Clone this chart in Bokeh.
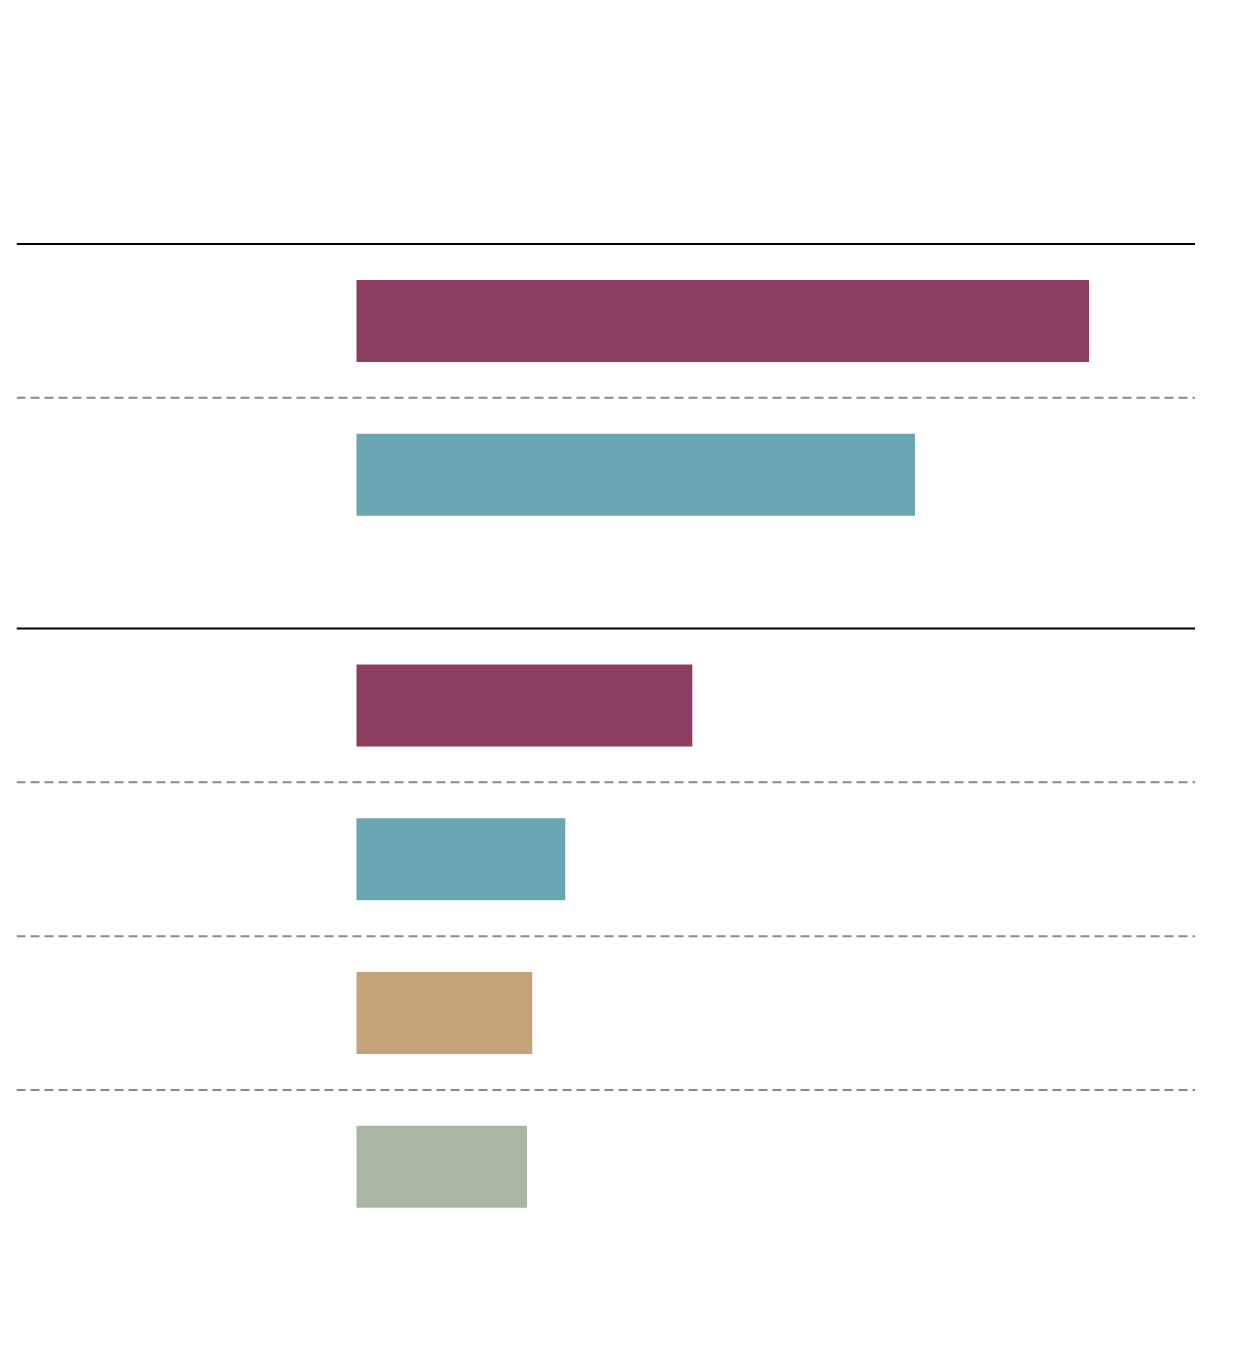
from bokeh.plotting import figure
from bokeh.models import Range1d, Span, ColumnDataSource
from bokeh.embed import file_html
from bokeh.resources import INLINE

# Data (no text labels are shown in the reference)
values = [42.1, 32.1, 19.3, 12.0, 10.1, 9.8]
groups = [0, 0, 1, 1, 1, 1]
colors = ["#8B3E60", "#6BA7B0", "#8B3E60", "#6BA7B0", "#C5A378", "#AAB6A3"]

GROUP_GAP = 0.5
positions = []
for i, g in enumerate(groups):
    positions.append(i + g * GROUP_GAP)

src = ColumnDataSource(dict(y=positions, right=values, color=colors))

p = figure(
    frame_width=1179, frame_height=1340,
    x_range=Range1d(-19.54, 48.22),
    y_range=Range1d(6.681, -2.031),
    output_backend="svg", toolbar_location=None,
    min_border_left=16, min_border_right=0, min_border_top=8, min_border_bottom=0,
)
p.axis.visible = False
p.grid.visible = False
p.outline_line_color = None
p.background_fill_color = "white"
p.border_fill_color = "white"

p.hbar(y="y", left=0, right="right", height=0.533, color="color", source=src, line_color=None)

# separators
for i, pos in enumerate(positions):
    if i == 0 or groups[i] != groups[i - 1]:
        p.add_layout(Span(location=pos - 0.5, dimension="width", line_color="black", line_width=2))
    else:
        mid = (pos + positions[i - 1]) / 2
        p.add_layout(Span(location=mid, dimension="width", line_color="#8a8a8a",
                          line_width=2, line_dash="9 5"))

open("out.html", "w").write(file_html(p, INLINE))
